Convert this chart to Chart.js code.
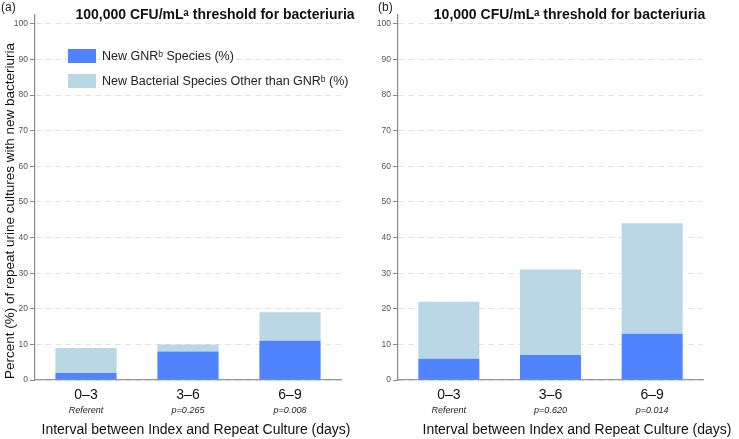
<!DOCTYPE html>
<html>
<head>
<meta charset="utf-8">
<script src="https://cdn.jsdelivr.net/npm/chart.js@4.4.0/dist/chart.umd.min.js"></script>
<style>
  html, body { margin: 0; padding: 0; background: #fff; }
  #wrap { position: relative; width: 739px; height: 439px; overflow: hidden; }
  #cA { position: absolute; left: 0; top: 0; }
  #cB { position: absolute; left: 370px; top: 0; }
</style>
</head>
<body>
<div id="wrap">
  <canvas id="cA" width="370" height="439"></canvas>
  <canvas id="cB" width="369" height="439"></canvas>
</div>
<script>
// ---- Data ----
const categories = ['0–3', '3–6', '6–9'];
const seriesNames = ['New GNRᵇ Species (%)', 'New Bacterial Species Other than GNRᵇ (%)'];
const pLabelsA = ['Referent', 'p=0.265', 'p=0.008'];
const pLabelsB = ['Referent', 'p=0.620', 'p=0.014'];
const gnrA = [2, 8, 11];
const otherA = [7, 2, 8];
const gnrB = [6, 7, 13];
const otherB = [16, 24, 31];
const yTickValues = [0, 10, 20, 30, 40, 50, 60, 70, 80, 90, 100];
const titleA = '100,000 CFU/mLᵃ threshold for bacteriuria';
const titleB = '10,000 CFU/mLᵃ threshold for bacteriuria';
const yTitle = 'Percent (%) of repeat urine cultures with new bacteriuria';
const xTitle = 'Interval between Index and Repeat Culture (days)';

const FONT = '"Liberation Sans", Arial, "DejaVu Sans", sans-serif';
const BLUE = '#4F83FF';
const LIGHT = '#B9D7E4';

const overlay = {
  id: 'overlay',
  afterDraw(chart, args, o) {
    const ctx = chart.ctx;
    ctx.save();
    ctx.textBaseline = 'middle';
    // panel label
    ctx.fillStyle = '#222';
    ctx.font = '12px ' + FONT;
    ctx.textAlign = 'left';
    ctx.fillText(o.panel, o.panelX, 8);
    // title
    ctx.fillStyle = '#111';
    ctx.font = 'bold 14px ' + FONT;
    ctx.textAlign = 'center';
    ctx.fillText(o.title, o.titleX, 15);
    // legend
    if (o.legend) {
      const ds = chart.data.datasets;
      ctx.font = '12.5px ' + FONT;
      ctx.textAlign = 'left';
      ds.forEach((d, i) => {
        const y = 49 + i * 25;
        ctx.fillStyle = d.backgroundColor;
        ctx.fillRect(68, y, 28, 14);
        ctx.fillStyle = '#222';
        ctx.fillText(d.label, 102, y + 7.5);
      });
    }
    // sub-labels under categories
    const xs = chart.scales.x;
    ctx.fillStyle = '#222';
    ctx.font = 'italic 9px ' + FONT;
    ctx.textAlign = 'center';
    o.sub.forEach((s, i) => {
      ctx.fillText(s, xs.getPixelForValue(i), 410);
    });
    // x title
    ctx.font = '14px ' + FONT;
    ctx.fillStyle = '#111';
    ctx.fillText(xTitle, o.xTitleX, 430);
    // y title
    if (o.yTitle) {
      ctx.translate(10, 211);
      ctx.rotate(-Math.PI / 2);
      ctx.font = '13.5px ' + FONT;
      ctx.fillText(yTitle, 0, 0);
    }
    ctx.restore();
  }
};

function makeChart(id, gnr, other, yWidth, ov) {
  return new Chart(document.getElementById(id), {
    type: 'bar',
    data: {
      labels: categories,
      datasets: [
        { label: seriesNames[0], data: gnr, backgroundColor: BLUE, borderWidth: 0 },
        { label: seriesNames[1], data: other, backgroundColor: LIGHT, borderWidth: 0 }
      ]
    },
    options: {
      responsive: false,
      animation: false,
      devicePixelRatio: 1,
      layout: { padding: { top: 15, right: ov.rightPad, left: 0, bottom: 0 } },
      plugins: { legend: { display: false }, tooltip: { enabled: false }, overlay: ov },
      datasets: { bar: { barPercentage: 1, categoryPercentage: 0.6 } },
      scales: {
        x: {
          stacked: true,
          grid: { display: false, drawTicks: false },
          border: { display: true, color: '#9a9a9a', width: 1.2 },
          ticks: { color: '#111', font: { family: FONT, size: 14 }, padding: 7, maxRotation: 0 },
          afterFit(s) { s.height = 59; }
        },
        y: {
          stacked: true,
          min: 0,
          max: 102.5,
          afterBuildTicks(s) { s.ticks = yTickValues.map(v => ({ value: v })); },
          ticks: { color: '#555', font: { family: FONT, size: 8.5 }, padding: 2 },
          grid: { color: '#e3e3e3', tickColor: '#888', tickLength: 5, tickBorderDash: [], lineWidth: 1 },
          border: { display: true, color: '#8a8a8a', width: 1.2, dash: [6, 4] },
          afterFit(s) { s.width = yWidth; }
        }
      }
    },
    plugins: [overlay]
  });
}

makeChart('cA', gnrA, otherA, 35, {
  panel: '(a)', panelX: 1, title: titleA, titleX: 215, legend: true,
  sub: pLabelsA, xTitleX: 196, yTitle: true, rightPad: 29
});
makeChart('cB', gnrB, otherB, 28, {
  panel: '(b)', panelX: 8, title: titleB, titleX: 199.5, legend: false,
  sub: pLabelsB, xTitleX: 207, yTitle: false, rightPad: 36
});
</script>
</body>
</html>
